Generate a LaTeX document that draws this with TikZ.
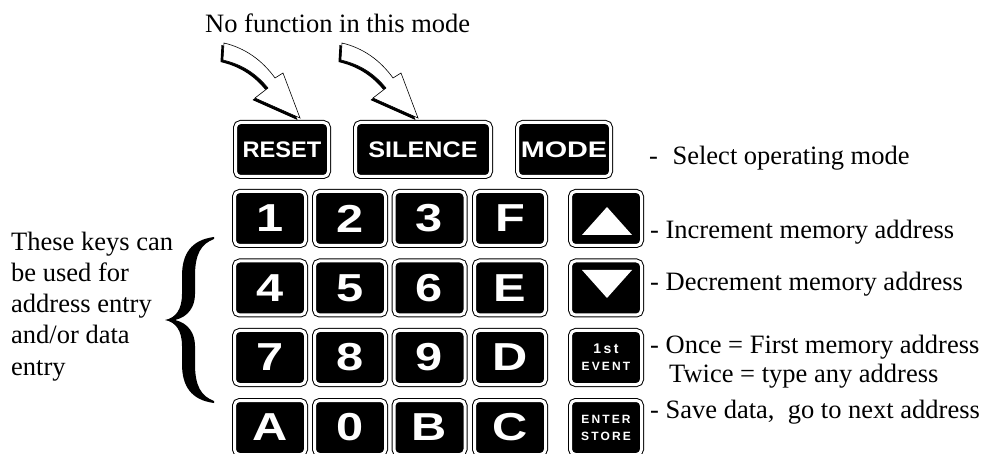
\documentclass[tikz,border=0pt]{standalone}
\usepackage{graphicx}
\usepackage{fontspec}
\setmainfont{Liberation Serif}
\newfontfamily\keyfont{Liberation Sans}
\newfontfamily\keywide{Liberation Sans}[LetterSpace=18]
\newcommand\widen[1]{\scalebox{1.25}[1]{#1}}
\tikzset{
  keybox/.style={draw=black, line width=1pt, double=white, double distance=3pt,
    fill=black, rounded corners=5pt, text=white, inner sep=0pt, minimum height=54pt},
  digitkey/.style={keybox, minimum width=71pt, font=\keyfont\bfseries\fontsize{39}{40}\selectfont},
  wordkey/.style={keybox, font=\keyfont\bfseries\fontsize{22.5}{26}\selectfont},
  smallkey/.style={keybox, minimum width=71pt, align=center, font=\keywide\bfseries\fontsize{12}{18}\selectfont},
  note/.style={anchor=base west, inner sep=0pt, font=\fontsize{26.5}{31}\selectfont},
  hollow/.style={fill=white, draw=black, line width=0.6pt, line join=miter},
}
\begin{document}
\begin{tikzpicture}[x=1pt,y=-1pt]
\useasboundingbox (0,0) rectangle (988,454);

% top row keys
\node[wordkey, minimum width=93pt] (reset) at (282,149.5) {\scalebox{1.05}[1]{RESET}};
\node[wordkey, minimum width=135pt] (silence) at (423,149.5) {\scalebox{1.12}[1]{SILENCE}};
\node[wordkey, minimum width=93pt] (mode) at (564,149.5) {\scalebox{1.28}[1]{MODE}};

% digit keys
\node[digitkey] (k1) at (270,218.5) {\widen{1}};
\node[digitkey] (k2) at (350,218.5) {\widen{2}};
\node[digitkey] (k3) at (429.5,218.5) {\widen{3}};
\node[digitkey] (kF) at (510,218.5) {\widen{F}};
\node[digitkey] (k4) at (270,288) {\widen{4}};
\node[digitkey] (k5) at (350,288) {\widen{5}};
\node[digitkey] (k6) at (429.5,288) {\widen{6}};
\node[digitkey] (kE) at (510,288) {\widen{E}};
\node[digitkey] (k7) at (270,357.5) {\widen{7}};
\node[digitkey] (k8) at (350,357.5) {\widen{8}};
\node[digitkey] (k9) at (429.5,357.5) {\widen{9}};
\node[digitkey] (kD) at (510,357.5) {\widen{D}};
\node[digitkey] (kA) at (270,427.5) {\widen{A}};
\node[digitkey] (k0) at (350,427.5) {\widen{0}};
\node[digitkey] (kB) at (429.5,427.5) {\widen{B}};
\node[digitkey] (kC) at (510,427.5) {\widen{C}};

% right column keys
\node[digitkey] (up) at (606,218.5) {};
\node[digitkey] (down) at (606,288) {};
\node[smallkey] (first) at (606,357.5) {{\fontsize{14}{16}\selectfont 1\,st}\\[-1pt]EVENT};
\node[smallkey] (enter) at (606,427.5) {ENTER\\[-1pt]STORE};
\fill[white] (up.center) ++(-24,16.5) -- ++(50,0) -- ++(-25,-28) -- cycle;
\fill[white] (down.center) ++(-24,-18) -- ++(50,0) -- ++(-25,28) -- cycle;

% hollow arrows
\foreach \dx in {0,118} {
  \begin{scope}[xshift=\dx]
    \fill[black, shift={(-2.5,2)}] (224,43) .. controls (245,48) and (262,60) .. (275,78)
      -- (283,73) -- (300,118) -- (255,98) -- (268,88)
      .. controls (255,72) and (240,64) .. (223,60) -- cycle;
    \filldraw[hollow] (224,43) .. controls (245,48) and (262,60) .. (275,78)
      -- (283,73) -- (300,118) -- (255,98) -- (268,88)
      .. controls (255,72) and (240,64) .. (223,60) -- cycle;
  \end{scope}
}

% brace
\fill[black] (214,237) .. controls (191,240) and (182,254) .. (182,276)
  -- (182,294) .. controls (182,309) and (176,318) .. (165,320)
  .. controls (176,322) and (182,331) .. (182,346)
  -- (182,364) .. controls (182,386) and (191,400) .. (214,403)
  -- (214,401) .. controls (201,396) and (195,386) .. (195,364)
  -- (195,346) .. controls (195,333) and (188,323) .. (175,320)
  .. controls (188,317) and (195,307) .. (195,294)
  -- (195,276) .. controls (195,254) and (201,244) .. (214,239) -- cycle;

% texts
\node[note] (nofunc) at (205,32.5) {No function in this mode};
\node[note] (lselect) at (649,165) {-\hspace{0.55em}Select operating mode};
\node[note] (linc) at (650,239) {- Increment memory address};
\node[note] (ldec) at (650,291) {- Decrement memory address};
\node[note] (lonce) at (650,353) {- Once = First memory address};
\node[note] (ltwice) at (669,382) {Twice = type any address};
\node[note] (lsave) at (650,418) {- Save data,\hspace{0.5em}go to next address};

\node[note] (t1) at (11,251) {These keys can};
\node[note] (t2) at (11,282) {be used for};
\node[note] (t3) at (11,313) {address entry};
\node[note] (t4) at (11,344) {and/or data};
\node[note] (t5) at (11,375) {entry};
\end{tikzpicture}
\end{document}
